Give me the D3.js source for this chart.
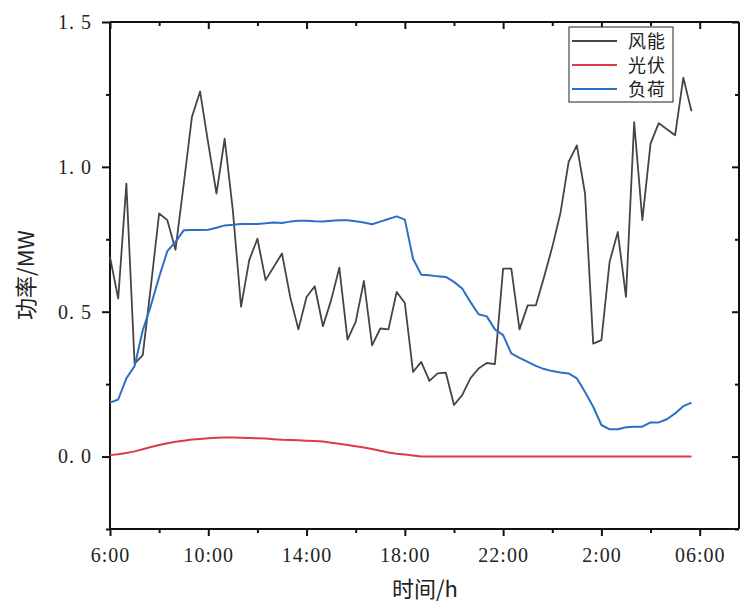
<!DOCTYPE html>
<html>
<head>
<meta charset="utf-8">
<script src="https://cdn.jsdelivr.net/npm/d3@7"></script>
<style>
  body { margin: 0; background: #fff; }
  svg text { font-family: "Liberation Serif", "DejaVu Serif", serif; fill: #222; }
  .cjk { font-family: "Noto Sans CJK SC", sans-serif; }
</style>
</head>
<body>
<svg id="chart" width="741" height="603"></svg>
<script>
// Samples every 20 minutes starting at 6:00 (72 samples over one day)
const stepHours = 1 / 3;

// Wind power output (MW)
const wind = [
  0.689, 0.545, 0.942, 0.321, 0.350, 0.590, 0.839, 0.816, 0.714, 0.940,
  1.172, 1.260, 1.080, 0.908, 1.097, 0.850, 0.517, 0.678, 0.752, 0.609,
  0.655, 0.701, 0.551, 0.439, 0.551, 0.588, 0.450, 0.540, 0.652, 0.404,
  0.465, 0.606, 0.384, 0.442, 0.439, 0.568, 0.530, 0.292, 0.327, 0.261,
  0.287, 0.290, 0.178, 0.212, 0.270, 0.304, 0.323, 0.319, 0.649, 0.649,
  0.439, 0.522, 0.522, 0.620, 0.723, 0.841, 1.017, 1.074, 0.908, 0.390,
  0.402, 0.672, 0.775, 0.551, 1.154, 0.816, 1.080, 1.151, 1.130, 1.109,
  1.308, 1.192
];

// Photovoltaic output (MW)
const solar = [
  0.005, 0.008, 0.012, 0.018, 0.025, 0.033, 0.040, 0.046, 0.051, 0.055,
  0.059, 0.061, 0.063, 0.065, 0.066, 0.066, 0.065, 0.064, 0.063, 0.062,
  0.060, 0.058, 0.057, 0.056, 0.055, 0.054, 0.052, 0.048, 0.044, 0.040,
  0.036, 0.031, 0.026, 0.020, 0.014, 0.010, 0.007, 0.004, 0, 0,
  0, 0, 0, 0, 0, 0, 0, 0, 0, 0,
  0, 0, 0, 0, 0, 0, 0, 0, 0, 0,
  0, 0, 0, 0, 0, 0, 0, 0, 0, 0,
  0, 0
];

// Load demand (MW)
const load = [
  0.186, 0.197, 0.270, 0.312, 0.436, 0.522, 0.620, 0.709, 0.741, 0.781,
  0.782, 0.782, 0.783, 0.790, 0.798, 0.800, 0.803, 0.803, 0.803, 0.805,
  0.808, 0.806, 0.811, 0.814, 0.814, 0.812, 0.811, 0.814, 0.816, 0.816,
  0.812, 0.808, 0.802, 0.811, 0.820, 0.829, 0.818, 0.683, 0.628, 0.626,
  0.622, 0.620, 0.603, 0.580, 0.534, 0.491, 0.484, 0.439, 0.419, 0.356,
  0.341, 0.327, 0.313, 0.302, 0.295, 0.290, 0.287, 0.270, 0.223, 0.172,
  0.109, 0.094, 0.094, 0.101, 0.103, 0.103, 0.118, 0.118, 0.129, 0.149,
  0.174, 0.186
];

// Axis ticks (hours since 6:00) and their labels
const xTicks = [0, 4, 8, 12, 16, 20, 24];
const xTickLabels = ["6:00", "10:00", "14:00", "18:00", "22:00", "2:00", "06:00"];
const xMinorTicks = [2, 6, 10, 14, 18, 22];
const yTicks = [0, 0.5, 1.0, 1.5];
const yMinorTicks = [-0.25, 0.25, 0.75, 1.25];

const seriesNames = ["风能", "光伏", "负荷"];
const seriesColors = ["#454545", "#dc3b45", "#2b70c8"];
const seriesData = [wind, solar, load];

const svg = d3.select("#chart");
const plot = { left: 110, right: 739, top: 22, bottom: 529 };

const x = d3.scaleLinear().domain([0, 25.6]).range([plot.left, plot.right]);
const y = d3.scaleLinear().domain([-0.25, 1.5]).range([plot.bottom, plot.top]);

const fmtY = d => d3.format(".1f")(d).replace(".", ". ");

// Bottom axis (outward ticks, labelled)
const gBottom = svg.append("g").attr("transform", `translate(0,${plot.bottom})`);
gBottom.call(d3.axisBottom(x).tickValues(xTicks).tickSize(7).tickPadding(12)
  .tickFormat((d, i) => xTickLabels[i]));
gBottom.append("g").call(d3.axisBottom(x).tickValues(xMinorTicks).tickSize(4).tickFormat(""));

// Left axis (outward ticks, labelled)
const gLeft = svg.append("g").attr("transform", `translate(${plot.left},0)`);
gLeft.call(d3.axisLeft(y).tickValues(yTicks).tickSize(8).tickPadding(10).tickFormat(fmtY));
gLeft.append("g").call(d3.axisLeft(y).tickValues(yMinorTicks).tickSize(4).tickFormat(""));

// Mirrored top and right axes with inward ticks
const gTop = svg.append("g").attr("transform", `translate(0,${plot.top})`);
gTop.call(d3.axisBottom(x).tickValues(xTicks).tickSize(7).tickFormat(""));
gTop.append("g").call(d3.axisBottom(x).tickValues(xMinorTicks).tickSize(4).tickFormat(""));
const gRight = svg.append("g").attr("transform", `translate(${plot.right},0)`);
gRight.call(d3.axisLeft(y).tickValues(yTicks).tickSize(-7).tickFormat(""));
gRight.append("g").call(d3.axisLeft(y).tickValues(yMinorTicks).tickSize(-4).tickFormat(""));
gRight.selectAll(".tick line").each(function () {
  const sel = d3.select(this);
  sel.attr("x2", -Math.abs(+sel.attr("x2")));
});

[gBottom, gLeft, gTop, gRight].forEach(g => {
  g.selectAll(".domain").attr("stroke", "#111").attr("stroke-width", 2);
  g.selectAll(".tick line").attr("stroke", "#111").attr("stroke-width", 2);
  g.selectAll(".tick text").attr("font-size", 20).attr("fill", "#222")
    .style("font-family", "'Liberation Serif', serif").attr("letter-spacing", 1);
});
gTop.selectAll(".domain").attr("d", `M${plot.left},0H${plot.right}`);
gBottom.selectAll(".domain").attr("d", `M${plot.left},0H${plot.right}`);
gRight.selectAll(".domain").attr("d", `M0,${plot.top}V${plot.bottom}`);
gLeft.selectAll(".domain").attr("d", `M0,${plot.top}V${plot.bottom}`);

// Series lines
const line = d3.line().x((d, i) => x(i * stepHours)).y(d => y(d));
seriesData.forEach((vals, k) => {
  svg.append("path").datum(vals)
    .attr("fill", "none")
    .attr("stroke", seriesColors[k])
    .attr("stroke-width", k === 0 ? 1.8 : 2)
    .attr("stroke-linejoin", "round")
    .attr("d", line);
});

// Legend
const lg = svg.append("g").attr("transform", "translate(569,27)");
lg.append("rect").attr("width", 104).attr("height", 75)
  .attr("fill", "#fff").attr("stroke", "#222").attr("stroke-width", 1);
seriesNames.forEach((name, k) => {
  const cy = 14 + k * 24;
  lg.append("line").attr("x1", 3).attr("x2", 48).attr("y1", cy).attr("y2", cy)
    .attr("stroke", seriesColors[k]).attr("stroke-width", 2);
  lg.append("text").attr("class", "cjk").attr("x", 59).attr("y", cy + 6.5)
    .attr("font-size", 18).attr("letter-spacing", 1).attr("fill", "#333").text(name);
});

// Axis titles
svg.append("text").attr("class", "cjk")
  .attr("x", 425).attr("y", 597).attr("text-anchor", "middle")
  .attr("font-size", 22).attr("fill", "#222").text("时间/h");
svg.append("text").attr("class", "cjk")
  .attr("transform", "translate(34,275) rotate(-90)")
  .attr("text-anchor", "middle").attr("font-size", 22).attr("fill", "#222")
  .text("功率/MW");
</script>
</body>
</html>
